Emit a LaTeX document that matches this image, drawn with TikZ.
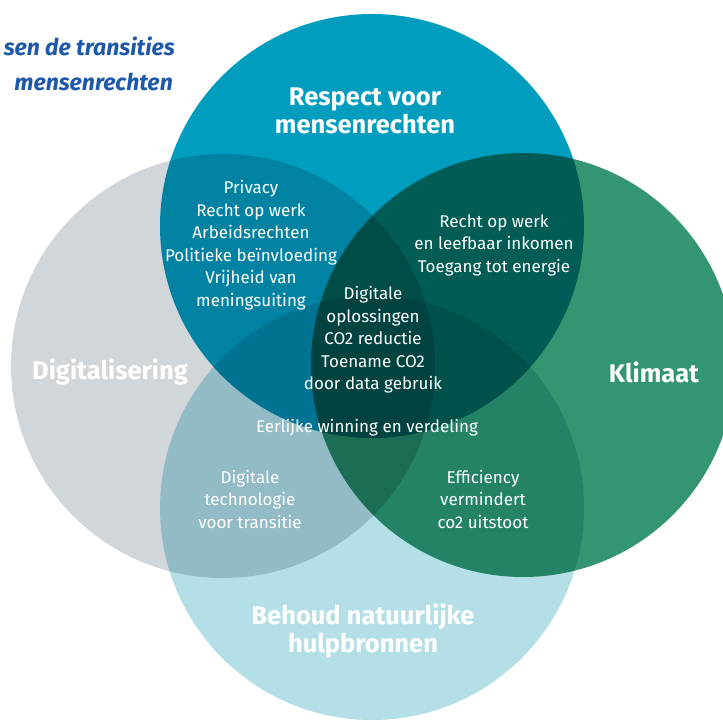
\documentclass[tikz,border=0pt]{standalone}
\usepackage{fontspec}
\setmainfont{Fira Sans}
\definecolor{mrblue}{RGB}{0,157,191}
\definecolor{digigray}{RGB}{209,214,218}
\definecolor{klimgreen}{RGB}{51,150,113}
\definecolor{natblue}{RGB}{180,223,231}
\definecolor{titleblue}{RGB}{30,88,168}
\begin{document}
\begin{tikzpicture}[x=1pt,y=-1pt,
    txt/.style={text=white,align=center,inner sep=0pt,font=\fontsize{17}{22.5}\selectfont},
    head/.style={text=white,align=center,inner sep=0pt,font=\fontsize{25.5}{28.5}\selectfont\bfseries},
    title/.style={text=titleblue,anchor=east,inner sep=0pt,font=\fontsize{23}{28}\selectfont\bfseries\itshape}]
  \useasboundingbox (0,0) rectangle (723,720);
  % the four circles, overlaps by multiply
  \fill[digigray,  blend mode=multiply] (223,366) circle (212);
  \fill[klimgreen, blend mode=multiply] (523,365) circle (212);
  \fill[natblue,   blend mode=multiply] (372,508) circle (212);
  \fill[mrblue,    blend mode=multiply] (372,226) circle (212);
  % title, cut off at the left
  \node[title] (t1) at (175,46) {sen de transities};
  \node[title] (t2) at (173,82) {mensenrechten};
  % circle names
  \node[head] (mr) at (365,111) {Respect voor\\mensenrechten};
  \node[head] (digi) at (110,372) {Digitalisering};
  \node[head] (klim) at (654,372) {Klimaat};
  \node[head] (nat) at (363,631) {Behoud natuurlijke\\hulpbronnen};
  % overlaps
  \node[txt] (mrdigi) at (251,245) {Privacy\\Recht op werk\\Arbeidsrechten\\Politieke beïnvloeding\\Vrijheid van\\meningsuiting};
  \node[txt] (mrklim) at (494,245) {Recht op werk\\en leefbaar inkomen\\Toegang tot energie};
  \node[txt] (mid) at (373,340) {Digitale\\oplossingen\\CO2 reductie\\Toename CO2\\door data gebruik};
  \node[txt] (winning) at (367,428) {Eerlijke winning en verdeling};
  \node[txt] (diginat) at (250,499) {Digitale\\technologie\\voor transitie};
  \node[txt] (klimnat) at (483,499) {Efficiency\\vermindert\\co2 uitstoot};
\end{tikzpicture}
\end{document}
